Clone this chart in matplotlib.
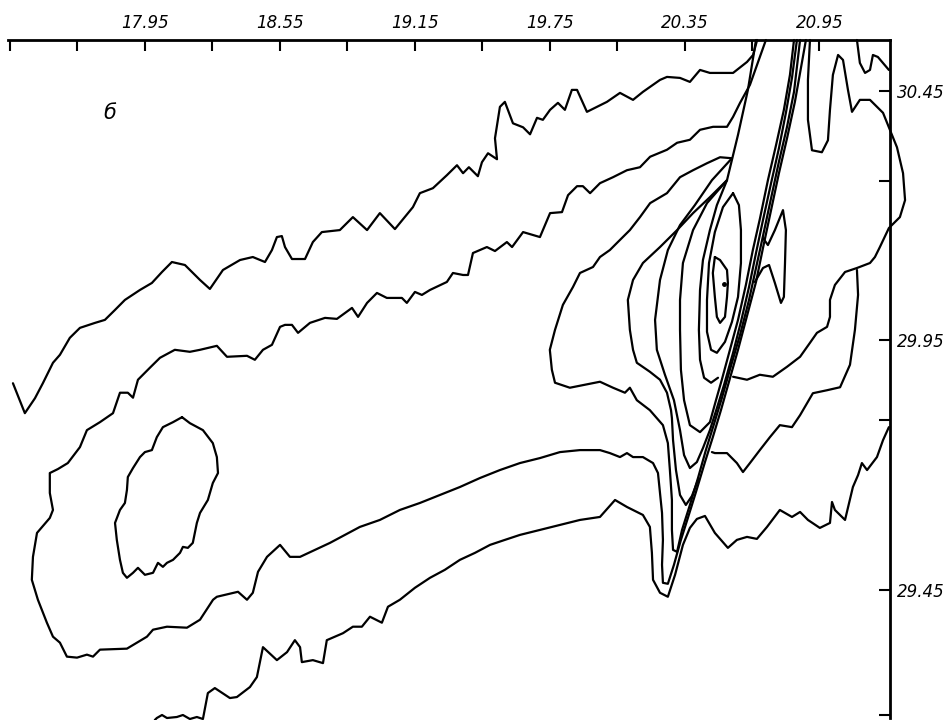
import matplotlib
matplotlib.use("Agg")
import matplotlib.pyplot as plt

# ---------------- axis values ----------------
top_labeled = [17.95, 18.55, 19.15, 19.75, 20.35, 20.95]
top_minor = [17.35, 17.65, 18.25, 18.85, 19.45, 20.05, 20.65]
right_labeled = [29.45, 29.95, 30.45]
right_minor = [29.20, 29.79, 30.27]
x_range = (17.341, 21.264)
y_range = (29.193, 30.552)
panel_label = "б"

# ---------------- contour traces (x, y) ----------------
c1 = [(17.363,29.864),(17.416,29.804),(17.461,29.834),(17.496,29.864),(17.541,29.905),(17.572,29.921),
      (17.616,29.955),(17.661,29.975),(17.728,29.985),(17.772,29.991),(17.817,30.011),(17.861,30.031),
      (17.928,30.051),(17.981,30.065),(18.026,30.087),(18.070,30.107),(18.128,30.101),(18.195,30.071),
      (18.239,30.053),(18.297,30.091),(18.373,30.111),(18.430,30.117),(18.484,30.107),(18.515,30.131),
      (18.537,30.157),(18.559,30.159),(18.573,30.137),(18.604,30.113),(18.662,30.113),(18.697,30.147),
      (18.737,30.167),(18.817,30.171),(18.875,30.197),(18.938,30.171),(18.995,30.205),(19.062,30.173),
      (19.142,30.217),(19.173,30.245),(19.231,30.255),(19.293,30.281),(19.338,30.301),(19.365,30.285),
      (19.391,30.297),(19.431,30.279),(19.449,30.307),(19.476,30.325),(19.516,30.313),(19.507,30.355),
      (19.529,30.418),(19.551,30.428),(19.587,30.385),(19.632,30.377),(19.663,30.363),(19.694,30.396),
      (19.720,30.392),(19.752,30.412),(19.787,30.426),(19.818,30.412),(19.849,30.452),(19.872,30.452),
      (19.916,30.408),(20.005,30.428),(20.063,30.446),(20.121,30.432),(20.165,30.448),(20.241,30.472),
      (20.272,30.478),(20.330,30.476),(20.374,30.468),(20.419,30.492),(20.463,30.486),(20.508,30.486),
      (20.566,30.486),(20.628,30.508),(20.655,30.522),(20.673,30.552)]

c2 = [(20.712,30.552),(20.641,30.462),(20.597,30.426),(20.566,30.398),(20.539,30.378),(20.477,30.378),
      (20.419,30.372),(20.374,30.352),(20.317,30.346),(20.272,30.332),(20.197,30.318),(20.152,30.297),
      (20.094,30.291),(20.032,30.277),(19.974,30.265),(19.930,30.245),(19.898,30.259),(19.872,30.259),
      (19.832,30.241),(19.805,30.207),(19.752,30.205),(19.707,30.157),(19.632,30.167),(19.583,30.137),
      (19.560,30.147),(19.507,30.129),(19.471,30.137),(19.409,30.125),(19.387,30.081),(19.365,30.081),
      (19.320,30.085),(19.293,30.067),(19.218,30.051),(19.182,30.041),(19.151,30.047),(19.115,30.025),
      (19.093,30.035),(19.026,30.035),(18.982,30.045),(18.938,30.025),(18.898,29.997),(18.871,30.015),
      (18.804,29.993),(18.751,29.995),(18.684,29.985),(18.631,29.965),(18.604,29.981),(18.573,29.981),
      (18.551,29.977),(18.515,29.941),(18.475,29.931),(18.439,29.911),(18.404,29.919),(18.315,29.917),
      (18.270,29.939),(18.195,29.931),(18.150,29.927),(18.083,29.931),(18.017,29.915),(17.972,29.895),
      (17.919,29.871),(17.897,29.835),(17.874,29.845),(17.839,29.845),(17.808,29.804),(17.750,29.786),
      (17.692,29.770),(17.661,29.736),(17.607,29.704),(17.563,29.692),(17.527,29.684),(17.527,29.644),
      (17.541,29.610),(17.527,29.594),(17.470,29.564),(17.452,29.516),(17.447,29.470),(17.474,29.430),
      (17.514,29.384),(17.541,29.356),(17.572,29.344),(17.603,29.316),(17.648,29.314),(17.692,29.320),
      (17.719,29.316),(17.750,29.330),(17.870,29.332),(17.959,29.356),(17.986,29.370),(18.048,29.376),
      (18.137,29.374),(18.195,29.390),(18.253,29.430),(18.270,29.436),(18.364,29.446),(18.404,29.430),
      (18.430,29.444),(18.453,29.486),(18.493,29.516),(18.551,29.540),(18.595,29.516),(18.640,29.516),
      (18.706,29.530),(18.773,29.544),(18.840,29.560),(18.906,29.576),(18.995,29.590),(19.084,29.610),
      (19.173,29.624),(19.262,29.640),(19.351,29.656),(19.440,29.674),(19.529,29.690),(19.618,29.704),
      (19.707,29.714),(19.796,29.726),(19.885,29.730),(19.974,29.730),(20.018,29.724),(20.063,29.716),
      (20.094,29.724),(20.121,29.716),(20.165,29.716),(20.210,29.704),(20.232,29.684),(20.241,29.644),
      (20.250,29.604),(20.254,29.550),(20.250,29.500),(20.254,29.464),(20.276,29.462),(20.303,29.500),
      (20.334,29.550),(20.365,29.594),(20.401,29.646),(20.441,29.706),(20.476,29.756),(20.512,29.810),
      (20.548,29.867),(20.588,29.931),(20.628,29.999),(20.668,30.067),(20.699,30.135),(20.735,30.211),
      (20.770,30.285),(20.806,30.355),(20.841,30.428),(20.868,30.496),(20.890,30.552)]

ellipse = [(18.115,29.796),(18.150,29.784),(18.208,29.770),(18.252,29.744),(18.270,29.716),(18.275,29.684),
           (18.252,29.664),(18.230,29.630),(18.195,29.604),(18.181,29.584),(18.163,29.544),(18.141,29.534),
           (18.119,29.536),(18.106,29.524),(18.075,29.510),(18.048,29.504),(18.030,29.496),(18.008,29.504),
           (17.986,29.484),(17.950,29.480),(17.919,29.494),(17.897,29.484),(17.870,29.474),(17.852,29.484),
           (17.839,29.510),(17.825,29.550),(17.817,29.584),(17.839,29.610),(17.861,29.624),(17.870,29.650),
           (17.874,29.676),(17.897,29.694),(17.928,29.716),(17.950,29.726),(17.981,29.730),(18.003,29.756),
           (18.030,29.776),(18.075,29.786),(18.115,29.796)]

low = [(17.994,29.189),(18.003,29.193),(18.026,29.199),(18.048,29.193),(18.092,29.195),(18.119,29.199),
       (18.150,29.191),(18.181,29.195),(18.208,29.191),(18.230,29.243),(18.261,29.253),(18.328,29.233),
       (18.359,29.235),(18.417,29.255),(18.448,29.275),(18.475,29.335),(18.537,29.309),(18.582,29.325),
       (18.617,29.349),(18.640,29.335),(18.648,29.305),(18.697,29.309),(18.742,29.303),(18.759,29.349),
       (18.831,29.363),(18.875,29.376),(18.915,29.376),(18.951,29.396),(19.004,29.384),(19.031,29.416),
       (19.084,29.430),(19.151,29.454),(19.218,29.474),(19.284,29.490),(19.351,29.510),(19.418,29.524),
       (19.485,29.540),(19.551,29.550),(19.618,29.560),(19.707,29.570),(19.796,29.580),(19.885,29.590),
       (19.974,29.596),(20.041,29.630),(20.094,29.616),(20.165,29.600),(20.196,29.576),(20.205,29.524),
       (20.210,29.470),(20.241,29.444),(20.276,29.436),(20.308,29.480),(20.343,29.540),(20.374,29.574),
       (20.405,29.592),(20.441,29.598),(20.485,29.564),(20.543,29.534),(20.583,29.550),(20.628,29.556),
       (20.672,29.552),(20.717,29.576),(20.774,29.610),(20.828,29.596),(20.864,29.606),(20.899,29.590),
       (20.952,29.574),(20.997,29.584),(21.006,29.626),(21.019,29.610),(21.064,29.590),(21.099,29.656),
       (21.122,29.680),(21.139,29.704),(21.162,29.690),(21.206,29.716),(21.233,29.750),(21.259,29.776)]

core1 = [(20.485,30.117),(20.508,30.111),(20.539,30.091),(20.543,30.065),(20.539,30.037),(20.530,29.997),
         (20.508,29.985),(20.494,29.997),(20.485,30.037),(20.476,30.085),(20.485,30.117)]
core_dot = (20.526, 30.063)

core2 = [(20.566,30.245),(20.592,30.221),(20.601,30.171),(20.601,30.105),(20.588,30.037),(20.561,29.987),
         (20.530,29.947),(20.494,29.925),(20.468,29.931),(20.450,29.967),(20.450,30.031),(20.459,30.105),
         (20.485,30.167),(20.521,30.217),(20.566,30.245)]

ring3b = [(20.539,30.271),(20.494,30.221),(20.463,30.171),(20.432,30.111),(20.419,30.051),(20.414,29.971),
          (20.419,29.911),(20.437,29.875),(20.468,29.865),(20.499,29.875)]

ring3 = [(20.668,30.552),(20.632,30.452),(20.588,30.362),(20.539,30.271),(20.450,30.225),(20.388,30.171),
         (20.343,30.105),(20.330,30.031),(20.330,29.971),(20.334,29.891),(20.348,29.830),(20.374,29.780),
         (20.419,29.766),(20.463,29.786),
         (20.490,29.830),(20.516,29.871),(20.552,29.931),(20.588,29.991),(20.623,30.061),(20.654,30.131),
         (20.686,30.195),(20.721,30.271),(20.757,30.341),(20.792,30.412),(20.819,30.482),(20.837,30.552)]

ring4 = [(20.561,30.315),(20.472,30.271),(20.396,30.221),(20.330,30.181),(20.276,30.131),(20.241,30.071),
         (20.219,29.991),(20.227,29.931),(20.263,29.881),(20.303,29.830),(20.330,29.770),(20.348,29.720),
         (20.374,29.694),(20.405,29.706),(20.432,29.734),(20.463,29.770),(20.494,29.814),(20.526,29.861),
         (20.566,29.925),(20.601,29.987),(20.637,30.057),(20.668,30.125),(20.699,30.191),(20.735,30.265),
         (20.770,30.335),(20.801,30.406),(20.828,30.476),(20.850,30.552)]

ring4b = [(20.539,30.271),(20.463,30.237),(20.388,30.205),(20.317,30.171),(20.241,30.137),(20.165,30.105),
          (20.121,30.071),(20.098,30.031),(20.107,29.971),(20.121,29.931),(20.138,29.905),(20.196,29.887),
          (20.241,29.871),(20.272,29.845),(20.290,29.810),(20.294,29.794),(20.299,29.750),(20.312,29.690),
          (20.330,29.640),(20.356,29.620),(20.383,29.638),(20.410,29.670)]

ring5 = [(20.561,30.315),(20.508,30.317),(20.450,30.305),(20.388,30.291),(20.330,30.277),(20.272,30.245),
         (20.197,30.225),(20.152,30.197),(20.107,30.171),(20.049,30.145),(20.018,30.131),(19.974,30.117),
         (19.943,30.097),(19.885,30.085),(19.854,30.057),(19.809,30.021),(19.774,29.971),(19.751,29.931),
         (19.760,29.891),(19.774,29.865),(19.840,29.855),(19.974,29.867),(20.032,29.855),(20.085,29.845),
         (20.107,29.855),(20.138,29.830),(20.196,29.810),(20.254,29.780),(20.276,29.744),(20.285,29.690),
         (20.294,29.630),(20.294,29.570),(20.299,29.530),(20.317,29.526),(20.339,29.570),(20.374,29.620),
         (20.410,29.674),(20.445,29.730),(20.481,29.782),(20.516,29.834),(20.557,29.899),(20.597,29.961),
         (20.637,30.031),(20.668,30.095),(20.699,30.159),(20.735,30.235),(20.770,30.308),(20.806,30.378),
         (20.837,30.448),(20.864,30.552)]

lobe = [(20.699,30.155),(20.721,30.141),(20.752,30.171),(20.788,30.211),(20.801,30.171),(20.797,30.105),
        (20.792,30.037),(20.779,30.025),(20.752,30.065),(20.726,30.101),(20.699,30.095),(20.663,30.067)]

east = [(20.566,29.877),(20.628,29.871),(20.685,29.881),(20.743,29.877),(20.806,29.897),(20.864,29.917),
        (20.908,29.945),(20.939,29.965),(20.984,29.977),(20.997,29.997),(20.997,30.031),(21.019,30.061),
        (21.064,30.087),(21.117,30.095),(21.175,30.105),(21.197,30.117),(21.219,30.137),(21.259,30.175),
        (21.308,30.197),(21.331,30.231),(21.322,30.285),(21.295,30.337),(21.259,30.377),(21.233,30.406),
        (21.175,30.432),(21.130,30.432),(21.095,30.408),(21.077,30.452),(21.055,30.512),(21.033,30.522),
        (21.010,30.482),(20.997,30.412),(20.988,30.351),(20.961,30.327),(20.917,30.331),(20.899,30.392),
        (20.899,30.472),(20.908,30.552)]

east2 = [(20.472,29.726),(20.485,29.724),(20.539,29.724),(20.583,29.704),(20.610,29.686),(20.641,29.704),
         (20.685,29.730),(20.730,29.756),(20.774,29.780),(20.828,29.776),(20.864,29.800),(20.921,29.844),
         (20.984,29.850),(21.042,29.856),(21.086,29.901),(21.108,29.971),(21.122,30.041),(21.117,30.091)]

corner = [(21.117,30.552),(21.130,30.506),(21.153,30.486),(21.175,30.492),(21.188,30.522),(21.210,30.518),
          (21.259,30.492)]

traces = [c1, c2, ellipse, low, core1, core2, ring3b, ring3, ring4, ring4b, ring5,
          lobe, east, east2, corner]

# ---------------- figure ----------------
W, H = 951, 720
fig = plt.figure(figsize=(W / 100, H / 100), dpi=100)
ax = fig.add_axes([8 / W, 2 / H, 882 / W, 678 / H])
ax.set_xlim(*x_range)
ax.set_ylim(*y_range)

for tr in traces:
    xs = [p[0] for p in tr]
    ys = [p[1] for p in tr]
    ax.plot(xs, ys, color="black", lw=1.6, clip_on=False,
            solid_joinstyle="round", solid_capstyle="round")
ax.plot([core_dot[0]], [core_dot[1]], "o", color="black", ms=2.5)

ax.text(17.794, 30.406, panel_label, fontsize=15, fontstyle="italic",
        ha="center", va="center")

for s in ("left", "bottom"):
    ax.spines[s].set_visible(False)
for s in ("top", "right"):
    ax.spines[s].set_linewidth(2.0)

ax.xaxis.set_ticks_position("top")
ax.yaxis.set_ticks_position("right")
ax.set_xticks(top_labeled, [f"{v:.2f}" for v in top_labeled], fontstyle="italic", fontsize=12)
ax.set_xticks(top_minor, minor=True)
ax.set_yticks(right_labeled, [f"{v:.2f}" for v in right_labeled], fontstyle="italic", fontsize=12)
ax.set_yticks(right_minor, minor=True)
ax.tick_params(which="both", direction="in", length=8, width=1.5, color="black")
ax.tick_params(axis="x", which="major", pad=6)
ax.tick_params(axis="y", which="major", pad=5)

fig.savefig("out.png", dpi=100)
